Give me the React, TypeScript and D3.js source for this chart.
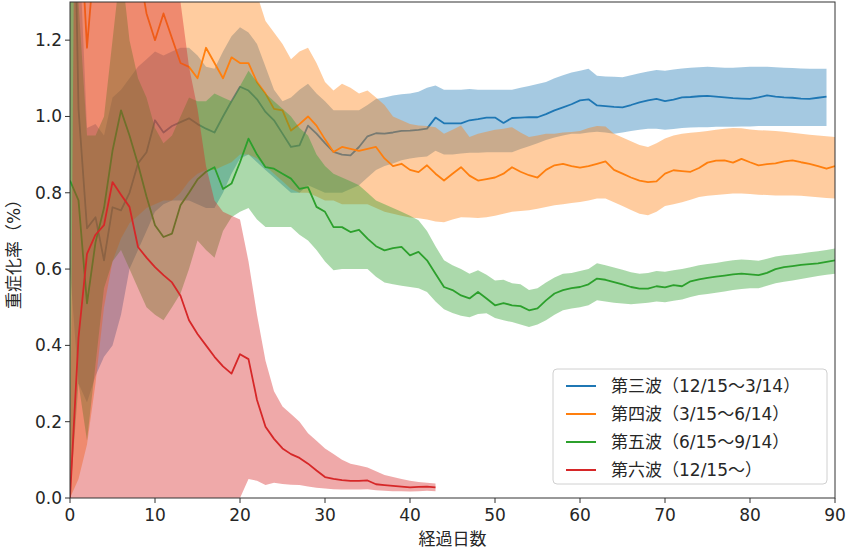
import * as d3 from 'd3';

const WIDTH = 846;
const HEIGHT = 551;
const MARGIN = { top: 2, right: 11, bottom: 53, left: 70 };

// 第三波 (day 0..89)
const blueMean = [
  2.2, 1.02, 0.707, 0.736, 0.623, 0.762, 0.754, 0.8, 0.877, 0.906,
  0.99, 0.958, 0.975, 0.985, 0.995, 0.98, 0.968, 0.958, 1.0, 1.04,
  1.078, 1.068, 1.045, 1.012, 0.99, 0.955, 0.92, 0.924, 0.976, 0.955,
  0.93, 0.907, 0.9, 0.898, 0.92, 0.948, 0.956, 0.955, 0.958, 0.962,
  0.963, 0.965, 0.968, 0.997, 0.982, 0.982, 0.982, 0.99, 0.993, 0.997,
  0.997, 0.983, 0.996, 0.997, 0.998, 0.998, 1.006, 1.016, 1.024, 1.032,
  1.042, 1.045, 1.029, 1.027, 1.025, 1.024, 1.03, 1.037, 1.042, 1.046,
  1.04, 1.044, 1.05, 1.051, 1.053, 1.054, 1.052, 1.05, 1.048, 1.047,
  1.046, 1.05, 1.055, 1.052, 1.05, 1.049, 1.047, 1.046, 1.049, 1.052,
];
const blueUpper = [
  3.0, 1.5, 0.97, 0.98, 0.95, 1.05, 1.07, 1.1, 1.13, 1.15,
  1.17, 1.16, 1.17, 1.18, 1.18, 1.16, 1.13, 1.125, 1.17, 1.21,
  1.234, 1.22, 1.19, 1.13, 1.07, 1.04, 1.05, 1.07, 1.086, 1.06,
  1.04, 1.016, 1.016, 1.016, 1.016, 1.03, 1.046, 1.05, 1.055, 1.058,
  1.06, 1.065, 1.075, 1.081, 1.07, 1.07, 1.07, 1.072, 1.07, 1.07,
  1.07, 1.07, 1.07, 1.075, 1.08, 1.085, 1.09, 1.1, 1.108, 1.115,
  1.12, 1.125, 1.107, 1.105, 1.104, 1.103, 1.108, 1.113, 1.118, 1.122,
  1.12, 1.123, 1.126, 1.128, 1.129, 1.13, 1.129, 1.128, 1.128, 1.129,
  1.13, 1.13, 1.13, 1.129, 1.128, 1.127, 1.126, 1.125, 1.125, 1.125,
];
const blueLower = [
  0.6, 0.3, 0.25, 0.32, 0.37, 0.4, 0.48, 0.6, 0.65, 0.7,
  0.75, 0.77, 0.78, 0.78, 0.78, 0.77, 0.76, 0.76, 0.8, 0.85,
  0.89, 0.9, 0.88, 0.86, 0.84, 0.82, 0.8, 0.8, 0.82, 0.81,
  0.8, 0.8, 0.8, 0.81, 0.82, 0.84, 0.86, 0.87, 0.877, 0.885,
  0.89, 0.893, 0.895, 0.91, 0.9, 0.9, 0.903, 0.905, 0.905, 0.906,
  0.906, 0.906, 0.906, 0.915, 0.922, 0.93, 0.938, 0.945, 0.95, 0.955,
  0.955, 0.958, 0.96, 0.958, 0.955, 0.958, 0.962, 0.965, 0.968, 0.968,
  0.965, 0.967, 0.97, 0.971, 0.972, 0.972, 0.973, 0.973, 0.973, 0.974,
  0.974, 0.975, 0.975, 0.975, 0.975, 0.975, 0.975, 0.975, 0.975, 0.975,
];

// 第四波 (day 0..90)
const orangeMean = [
  2.5, 1.6, 1.18, 1.45, 1.5, 1.55, 1.5, 1.45, 1.4, 1.27,
  1.2, 1.27, 1.205, 1.14, 1.13, 1.1, 1.18, 1.14, 1.1, 1.155,
  1.14, 1.14, 1.09, 1.06, 1.02, 1.016, 0.963, 0.98, 1.0, 0.976,
  0.94, 0.907, 0.92, 0.915, 0.91, 0.915, 0.92, 0.89, 0.87, 0.876,
  0.86, 0.854, 0.872, 0.85, 0.832, 0.85, 0.867, 0.845, 0.832, 0.836,
  0.84, 0.85, 0.867, 0.855, 0.846, 0.84, 0.86, 0.872, 0.876, 0.87,
  0.866, 0.87, 0.876, 0.882, 0.86, 0.85, 0.84, 0.832, 0.828, 0.83,
  0.85, 0.859, 0.857, 0.855, 0.865, 0.879, 0.884, 0.885, 0.879, 0.889,
  0.88, 0.872, 0.875, 0.877, 0.882, 0.885, 0.88, 0.876, 0.87, 0.863,
  0.87,
];
const orangeUpper = [
  4.0, 3.0, 2.5, 2.5, 2.5, 2.5, 2.4, 2.3, 2.2, 2.0,
  1.9, 1.8, 1.7, 1.65, 1.6, 1.55, 1.5, 1.48, 1.45, 1.42,
  1.4, 1.38, 1.32, 1.25, 1.22, 1.19, 1.15, 1.17, 1.18, 1.14,
  1.09, 1.068, 1.086, 1.075, 1.06, 1.068, 1.05, 1.03, 1.0, 0.99,
  0.98, 0.976, 0.975, 0.972, 0.955, 0.965, 0.976, 0.946, 0.955, 0.96,
  0.965, 0.968, 0.972, 0.958, 0.946, 0.95, 0.955, 0.955, 0.958, 0.959,
  0.962, 0.97, 0.975, 0.974, 0.955, 0.945, 0.935, 0.925, 0.92, 0.93,
  0.942, 0.95, 0.955, 0.957, 0.959, 0.962, 0.965, 0.968, 0.97, 0.969,
  0.966, 0.964, 0.963, 0.962, 0.96, 0.957, 0.955, 0.952, 0.95, 0.948,
  0.946,
];
const orangeLower = [
  0.0, 0.05, 0.14, 0.3, 0.5, 0.62, 0.68, 0.72, 0.74, 0.76,
  0.77, 0.78, 0.78, 0.8, 0.83, 0.85, 0.86, 0.86, 0.87, 0.88,
  0.9, 0.9, 0.89, 0.87, 0.85, 0.83, 0.81, 0.8, 0.8, 0.79,
  0.78, 0.78, 0.77, 0.77, 0.77, 0.77, 0.76, 0.75, 0.745, 0.74,
  0.735, 0.733, 0.73, 0.725, 0.723, 0.73, 0.736, 0.735, 0.734, 0.736,
  0.74, 0.745, 0.75, 0.752, 0.754, 0.758, 0.763, 0.767, 0.77, 0.773,
  0.776, 0.78, 0.785, 0.785, 0.775, 0.765, 0.755, 0.745, 0.741, 0.75,
  0.765, 0.77, 0.775, 0.782, 0.789, 0.792, 0.794, 0.796, 0.798, 0.798,
  0.797, 0.795, 0.794, 0.793, 0.793, 0.793, 0.792, 0.79, 0.788, 0.786,
  0.785,
];

// 第五波 (day 0..90)
const greenMean = [
  0.832, 0.78, 0.51, 0.67, 0.76, 0.91, 1.016, 0.95, 0.875, 0.79,
  0.715, 0.684, 0.693, 0.767, 0.8, 0.835, 0.855, 0.867, 0.81, 0.824,
  0.88, 0.942, 0.9, 0.867, 0.863, 0.85, 0.837, 0.81, 0.815, 0.763,
  0.75, 0.71, 0.71, 0.697, 0.703, 0.68, 0.66, 0.649, 0.655, 0.658,
  0.636, 0.645, 0.623, 0.588, 0.553, 0.545, 0.531, 0.523, 0.54, 0.523,
  0.505, 0.511, 0.505, 0.503, 0.492, 0.497, 0.518, 0.536, 0.545, 0.55,
  0.553, 0.56, 0.575, 0.572, 0.566, 0.56, 0.553, 0.549, 0.549, 0.555,
  0.552, 0.558, 0.555, 0.568, 0.573, 0.577, 0.58, 0.583, 0.586, 0.588,
  0.586, 0.584, 0.59, 0.6, 0.605, 0.608, 0.611, 0.613, 0.615, 0.619,
  0.623,
];
const greenUpper = [
  1.6, 1.3, 0.95, 0.95, 1.0, 1.2, 1.4, 1.2, 1.1, 1.05,
  0.97, 0.93, 0.95, 1.0, 1.05, 1.04, 1.04, 1.06, 1.05, 1.04,
  1.08, 1.12, 1.09, 1.06, 1.04, 1.02, 1.0, 0.97, 0.95, 0.9,
  0.87, 0.85, 0.84, 0.83, 0.82, 0.8, 0.78, 0.77, 0.76, 0.75,
  0.74, 0.728, 0.7, 0.66, 0.623, 0.61, 0.6, 0.588, 0.597, 0.585,
  0.57, 0.572, 0.563, 0.56, 0.545, 0.55, 0.565, 0.578, 0.588, 0.59,
  0.595, 0.6, 0.615, 0.61, 0.604, 0.598, 0.592, 0.588, 0.59, 0.595,
  0.593, 0.597, 0.6, 0.605, 0.61, 0.613, 0.616, 0.62, 0.623, 0.625,
  0.624, 0.622, 0.627, 0.633, 0.636, 0.638, 0.641, 0.644, 0.647, 0.65,
  0.654,
];
const greenLower = [
  0.0, 0.3, 0.15, 0.35, 0.55, 0.62, 0.65, 0.6, 0.55, 0.5,
  0.48, 0.466, 0.5, 0.536, 0.6, 0.675, 0.65, 0.63, 0.7, 0.736,
  0.75, 0.76, 0.73, 0.71, 0.71, 0.71, 0.71, 0.69, 0.675, 0.65,
  0.62, 0.597, 0.6, 0.6, 0.6, 0.6, 0.58, 0.565, 0.56, 0.556,
  0.553, 0.55, 0.54, 0.515, 0.495, 0.485, 0.478, 0.474, 0.482, 0.484,
  0.472, 0.466, 0.461, 0.455, 0.448, 0.455, 0.466, 0.48, 0.492, 0.497,
  0.5, 0.505, 0.518, 0.515, 0.512, 0.51, 0.508, 0.51, 0.512, 0.515,
  0.513, 0.517, 0.52, 0.527, 0.532, 0.535, 0.538, 0.541, 0.545, 0.548,
  0.55, 0.55, 0.556, 0.563, 0.567, 0.57, 0.574, 0.578, 0.582, 0.585,
  0.588,
];

// 第六波 (day 0..43)
const redMean = [
  0.0, 0.42, 0.64, 0.69, 0.715, 0.828, 0.795, 0.763, 0.658, 0.63,
  0.605, 0.584, 0.565, 0.53, 0.466, 0.43, 0.4, 0.37, 0.345, 0.326,
  0.377, 0.364, 0.257, 0.187, 0.155, 0.13, 0.115, 0.105, 0.09, 0.072,
  0.055, 0.05, 0.047, 0.045, 0.045, 0.046, 0.036, 0.034, 0.032, 0.03,
  0.028, 0.029, 0.03, 0.028,
];
const redUpper = [
  0.0, 3.0, 3.0, 3.0, 3.0, 3.0, 3.0, 3.0, 3.0, 3.0,
  3.0, 2.5, 1.8, 1.3, 1.13, 1.02, 0.87, 0.78, 0.75, 0.74,
  0.73, 0.62, 0.48, 0.36, 0.28, 0.24, 0.22, 0.2, 0.17, 0.15,
  0.13, 0.115, 0.1, 0.09, 0.085, 0.08, 0.07, 0.06, 0.055, 0.05,
  0.045, 0.042, 0.04, 0.038,
];
const redLower = [
  0, 0, 0, 0, 0, 0, 0, 0, 0, 0,
  0, 0, 0, 0, 0, 0, 0, 0, 0, 0,
  0, 0.05, 0.045, 0.034, 0.04, 0.037, 0.035, 0.034, 0.03, 0.027,
  0.025, 0.023, 0.022, 0.022, 0.022, 0.023, 0.02, 0.019, 0.018, 0.018,
  0.017, 0.018, 0.019, 0.018,
];

const seriesNames = ['第三波（12/15～3/14）', '第四波（3/15～6/14）', '第五波（6/15～9/14）', '第六波（12/15～）'];
const seriesColors = ['#1f77b4', '#ff7f0e', '#2ca02c', '#d62728'];

const xTicks = [0, 10, 20, 30, 40, 50, 60, 70, 80, 90];
const yTicks = [0, 0.2, 0.4, 0.6, 0.8, 1.0, 1.2];

// 数字は DejaVu、日本語は Noto CJK にフォールバック
const FONT = '"DejaVu Sans", "Noto Sans CJK JP", sans-serif';

type Pt = { d: number; m: number; lo: number; hi: number };

export default function App() {
  const boundsWidth = WIDTH - MARGIN.left - MARGIN.right;
  const boundsHeight = HEIGHT - MARGIN.top - MARGIN.bottom;

  const xScale = d3.scaleLinear().domain([0, 90]).range([0, boundsWidth]);
  const yScale = d3.scaleLinear().domain([0, 1.3]).range([boundsHeight, 0]);

  const series = [
    { mean: blueMean, lo: blueLower, hi: blueUpper },
    { mean: orangeMean, lo: orangeLower, hi: orangeUpper },
    { mean: greenMean, lo: greenLower, hi: greenUpper },
    { mean: redMean, lo: redLower, hi: redUpper },
  ].map((s, i) => ({
    name: seriesNames[i],
    color: seriesColors[i],
    points: s.mean.map((m, d) => ({ d, m, lo: s.lo[d], hi: s.hi[d] })) as Pt[],
  }));

  const area = d3
    .area<Pt>()
    .x((p) => xScale(p.d))
    .y0((p) => yScale(p.lo))
    .y1((p) => yScale(p.hi));
  const line = d3
    .line<Pt>()
    .x((p) => xScale(p.d))
    .y((p) => yScale(p.m));

  return (
    <svg
      width={WIDTH}
      height={HEIGHT}
      style={{ position: 'absolute', left: 0, top: 0, background: '#fff' }}
      fontFamily={FONT}
    >
      <defs>
        <clipPath id="plot-clip">
          <rect x={0} y={0} width={boundsWidth} height={boundsHeight} />
        </clipPath>
      </defs>
      <g transform={`translate(${MARGIN.left}, ${MARGIN.top})`}>
        {/* 線 → 信頼区間の順に重ねる */}
        <g clipPath="url(#plot-clip)">
          {series.map((s) => (
            <g key={s.name}>
              <path d={line(s.points) ?? ''} fill="none" stroke={s.color} strokeWidth={1.8} strokeLinejoin="round" />
              <path d={area(s.points) ?? ''} fill={s.color} fillOpacity={0.4} stroke="none" />
            </g>
          ))}
        </g>

        <rect x={0} y={0} width={boundsWidth} height={boundsHeight} fill="none" stroke="#333" strokeWidth={1} />

        {yTicks.map((t) => (
          <g key={t} transform={`translate(0, ${yScale(t)})`}>
            <line x1={-5} x2={0} stroke="#333" />
            <text x={-8} dy="0.35em" textAnchor="end" fontSize={17} fill="#262626">
              {d3.format('.1f')(t)}
            </text>
          </g>
        ))}

        {xTicks.map((t) => (
          <g key={t} transform={`translate(${xScale(t)}, ${boundsHeight})`}>
            <line y1={0} y2={5} stroke="#333" />
            <text y={23} textAnchor="middle" fontSize={17} fill="#262626">
              {t}
            </text>
          </g>
        ))}

        <text x={boundsWidth / 2} y={boundsHeight + 47} textAnchor="middle" fontSize={17} fill="#262626">
          経過日数
        </text>
        <text
          transform={`translate(${-50}, ${boundsHeight / 2}) rotate(-90)`}
          textAnchor="middle"
          fontSize={17}
          fill="#262626"
        >
          重症化率（%）
        </text>

        {/* 凡例 */}
        <g transform={`translate(${553 - MARGIN.left}, ${369 - MARGIN.top})`}>
          <rect width={274} height={115} rx={4} fill="#fff" fillOpacity={0.8} stroke="#d0d0d0" />
          {series.map((s, i) => (
            <g key={s.name} transform={`translate(0, ${17 + i * 28})`}>
              <line x1={13} x2={43} stroke={s.color} strokeWidth={2} />
              <text x={58} dy="0.35em" fontSize={17} fill="#262626">
                {s.name}
              </text>
            </g>
          ))}
        </g>
      </g>
    </svg>
  );
}
